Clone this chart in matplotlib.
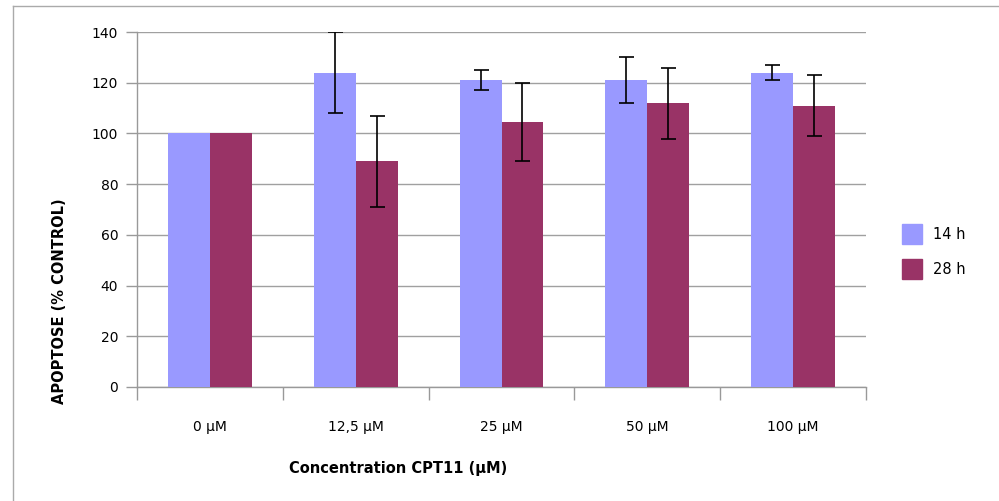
import matplotlib
matplotlib.use("Agg")
import matplotlib.pyplot as plt
import numpy as np
from matplotlib.lines import Line2D
from matplotlib.patches import Patch

categories = ["0 µM", "12,5 µM", "25 µM", "50 µM", "100 µM"]
series_names = ["14 h", "28 h"]
values_14h = [100, 124, 121, 121, 124]
errors_14h = [0, 16, 4, 9, 3]
values_28h = [100, 89, 104.5, 112, 111]
errors_28h = [0, 18, 15.5, 14, 12]
colors = ["#9999FF", "#993366"]
yticks = [0, 20, 40, 60, 80, 100, 120, 140]

plt.rcParams['font.family'] = ['DejaVu Sans']

fig = plt.figure(figsize=(9.99, 5.01), dpi=100)
ax = fig.add_axes([137/999, 1-387/501, (866-137)/999, (387-32)/501])

x = np.arange(len(categories))
w = 0.288
ax.bar(x - w/2, values_14h, w, color=colors[0], zorder=3, label=series_names[0])
ax.bar(x + w/2, values_28h, w, color=colors[1], zorder=3, label=series_names[1])

err_kw = dict(fmt="none", ecolor="black", elinewidth=1.2, capsize=5.4, capthick=1.2, zorder=4)
for offs, vals, errs in [(-w/2, values_14h, errors_14h), (w/2, values_28h, errors_28h)]:
    idx = [i for i, e in enumerate(errs) if e > 0]
    ax.errorbar(x[idx] + offs, [vals[i] for i in idx], yerr=[errs[i] for i in idx], **err_kw)

ax.set_xlim(-0.5, len(categories) - 0.5)
ax.set_ylim(0, 140)
ax.set_yticks(yticks)
ax.yaxis.grid(True, color="#a0a0a0", linewidth=1.0, zorder=0)
ax.set_axisbelow(True)

# x ticks: marks at category boundaries, labels at centers
ax.set_xticks(np.arange(-0.5, len(categories), 1.0))
ax.set_xticklabels([])
ax.set_xticks(x, minor=True)
ax.set_xticklabels(categories, minor=True)
ax.tick_params(axis='x', which='major', length=9.5, width=1, color="#999999", direction='out')
ax.tick_params(axis='x', which='minor', length=0, pad=24, labelsize=10)
ax.tick_params(axis='y', length=8, width=1, color="#999999", direction='out', pad=5.5, labelsize=10)

for s in ["top", "right"]:
    ax.spines[s].set_visible(False)
for s in ["left", "bottom"]:
    ax.spines[s].set_color("#999999")
    ax.spines[s].set_linewidth(1.0)

# outer frame (partially visible)
fig.add_artist(Line2D([13/999, 13/999], [0, 1-6/501], color="#aaaaaa", linewidth=1.0, transform=fig.transFigure))
fig.add_artist(Line2D([13/999, 1], [1-6/501, 1-6/501], color="#aaaaaa", linewidth=1.0, transform=fig.transFigure))

fig.text(398/999, 1-468/501, "Concentration CPT11 (µM)", ha="center", va="center",
         fontsize=10.5, fontweight="bold")
fig.text(60/999, 1-301/501, "APOPTOSE (% CONTROL)", ha="center", va="center",
         rotation=90, fontsize=10.5, fontweight="bold")

handles = [Patch(facecolor=colors[0], edgecolor=colors[0]), Patch(facecolor=colors[1], edgecolor=colors[1])]
fig.legend(handles, series_names, loc="upper left", bbox_to_anchor=(902/999, 1-224/501),
           frameon=False, fontsize=10.5, handlelength=1.4, handleheight=1.75,
           labelspacing=1.0, borderpad=0, borderaxespad=0, handletextpad=0.75)

fig.savefig("out.png", dpi=100)
